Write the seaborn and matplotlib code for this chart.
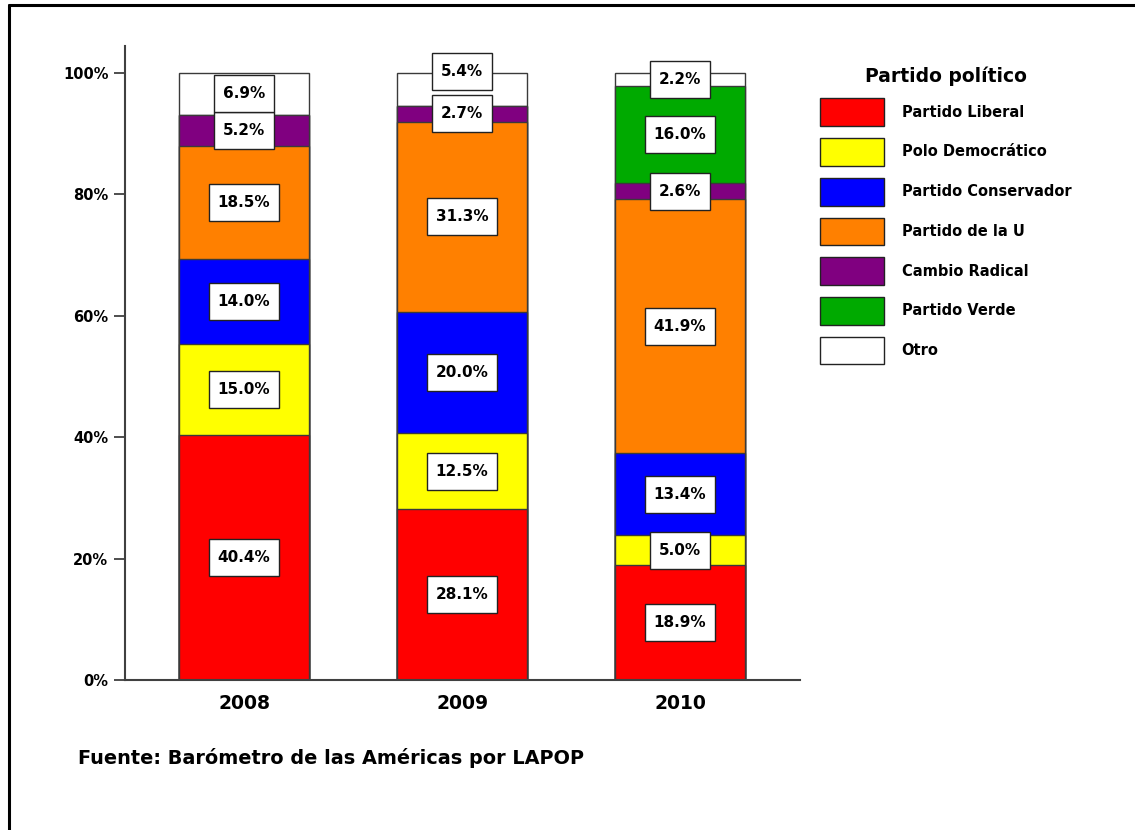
import numpy as np
import pandas as pd
import matplotlib
matplotlib.use("Agg")
import matplotlib.pyplot as plt
from matplotlib.lines import Line2D
from matplotlib.patches import Patch
from matplotlib.path import Path
import seaborn as sns

years = ["2008", "2009", "2010"]
parties = ["Partido Liberal", "Polo Democrático", "Partido Conservador",
           "Partido de la U", "Cambio Radical", "Partido Verde", "Otro"]
colors = ["#ff0000", "#ffff00", "#0000ff", "#ff8000", "#800080", "#00aa00", "#ffffff"]

liberal = [40.4, 28.1, 18.9]
polo = [15.0, 12.5, 5.0]
conservador = [14.0, 20.0, 13.4]
de_la_u = [18.5, 31.3, 41.9]
cambio = [5.2, 2.7, 2.6]
verde = [0.0, 0.0, 16.0]
otro = [6.9, 5.4, 2.2]

series = [liberal, polo, conservador, de_la_u, cambio, verde, otro]

sns.set_theme(style="white")
plt.rcParams["font.family"] = ["DejaVu Sans"]
plt.rcParams["font.weight"] = "bold"
plt.rcParams["text.color"] = "black"
plt.rcParams["xtick.color"] = "black"
plt.rcParams["ytick.color"] = "black"


def label_box(x0, y0, width, height, mutation_size):
    # rectangle with more vertical than horizontal padding
    px = 0.58 * mutation_size
    py = 0.72 * mutation_size
    x0, y0 = x0 - px, y0 - py
    x1, y1 = x0 + width + 2 * px, y0 + height + 2 * py
    return Path([(x0, y0), (x1, y0), (x1, y1), (x0, y1), (x0, y0)], closed=True)


df = pd.DataFrame({"year": years})
for name, vals in zip(parties, series):
    df[name] = vals
cum = df[parties].cumsum(axis=1)

fig = plt.figure(figsize=(11.35, 8.3), dpi=100)
ax = fig.add_axes([125 / 1135, 1 - 680 / 830, 675 / 1135, 634 / 830])

edge = "#3a3a3a"
# draw cumulative totals from top to bottom so lower segments overlay
for name, col in reversed(list(zip(parties, colors))):
    sns.barplot(x=df["year"], y=cum[name], color=col, width=0.6,
                edgecolor=edge, linewidth=1.0, saturation=1, ax=ax)

for i in range(len(years)):
    prev = -100
    for name in parties:
        v = df.loc[i, name]
        if v <= 0:
            continue
        ymid = cum.loc[i, name] - v / 2
        # push label up when it would sit on top of the one below
        if ymid - prev < 6.0:
            ymid = prev + 7.0
        prev = ymid
        ax.text(i, ymid, f"{v:.1f}%", ha="center", va="center",
                fontsize=11, fontweight="bold", color="black",
                bbox=dict(boxstyle=label_box, facecolor="white",
                          edgecolor="#222222", linewidth=1.0))

ax.set_xlim(-0.546, 2.55)
ax.set_ylim(0, 104.4)
ax.set_yticks([0, 20, 40, 60, 80, 100])
ax.set_yticklabels([f"{t}%" for t in [0, 20, 40, 60, 80, 100]],
                   fontsize=10.5, fontweight="bold")
ax.set_xticklabels(years, fontsize=13.5, fontweight="bold")
ax.set_xlabel("")
ax.set_ylabel("")
sns.despine(ax=ax)
for s in ["left", "bottom"]:
    ax.spines[s].set_color("#404040")
    ax.spines[s].set_linewidth(1.5)
ax.tick_params(axis="y", which="major", left=True, length=8, width=1.3,
               color="#404040", direction="out", pad=4)
ax.tick_params(axis="x", bottom=False, pad=4)

handles = [Patch(facecolor=c, edgecolor="#222222", linewidth=1.0) for c in colors]
leg = fig.legend(handles, parties, loc="upper left",
                 bbox_to_anchor=(820 / 1135, 1 - 67 / 830),
                 frameon=False, borderpad=0, borderaxespad=0,
                 handlelength=4.4, handleheight=2.55, handletextpad=1.2,
                 labelspacing=0.82, title="Partido político",
                 prop={"size": 10.5, "weight": "bold"},
                 title_fontproperties={"size": 13.5, "weight": "bold"})

fig.text(78 / 1135, 1 - 758 / 830, "Fuente: Barómetro de las Américas por LAPOP",
         fontsize=13.9, fontweight="bold", ha="left", va="center")

# frame lines at top and left edge
fig.add_artist(Line2D([9 / 1135, 9 / 1135], [0, 1 - 5 / 830], transform=fig.transFigure,
                      color="black", linewidth=2.2))
fig.add_artist(Line2D([9 / 1135, 1], [1 - 5 / 830, 1 - 5 / 830], transform=fig.transFigure,
                      color="black", linewidth=2.2))

fig.savefig("out.png", dpi=100, facecolor="white")
